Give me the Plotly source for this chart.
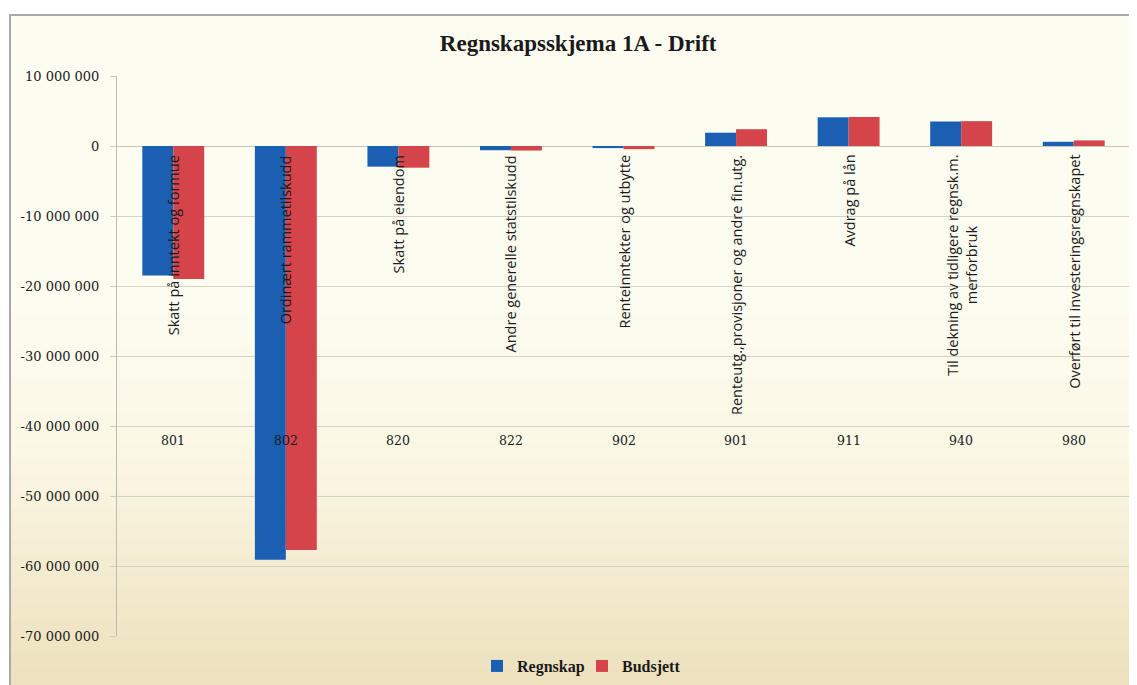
import plotly.graph_objects as go

codes = ["801", "802", "820", "822", "902", "901", "911", "940", "980"]
names = [
    "Skatt på inntekt og formue",
    "Ordinært rammetilskudd",
    "Skatt på eiendom",
    "Andre generelle statstilskudd",
    "Renteinntekter og utbytte",
    "Renteutg.,provisjoner og andre fin.utg.",
    "Avdrag på lån",
    "Til dekning av tidligere regnsk.m.<br>merforbruk",
    "Overført til investeringsregnskapet",
]
regnskap = [-18500000, -59100000, -2950000, -600000, -300000, 1900000, 4100000, 3500000, 600000]
budsjett = [-19000000, -57700000, -3100000, -650000, -450000, 2400000, 4150000, 3550000, 800000]

tick_vals = [10000000, 0, -10000000, -20000000, -30000000, -40000000, -50000000, -60000000, -70000000]
tick_text = ["10 000 000", "0", "-10 000 000", "-20 000 000", "-30 000 000", "-40 000 000",
             "-50 000 000", "-60 000 000", "-70 000 000"]

BLUE = "#1b5fb3"
RED = "#d5444b"

fig = go.Figure()
fig.add_trace(go.Bar(name="<b>Regnskap</b>", x=codes, y=regnskap, marker=dict(color=BLUE, line=dict(width=0))))
fig.add_trace(go.Bar(name="<b>Budsjett</b>", x=codes, y=budsjett, marker=dict(color=RED, line=dict(width=0))))

annotations = []
for i, (c, n) in enumerate(zip(codes, names)):
    annotations.append(dict(x=i, y=0, xref="x", yref="y", text=n, textangle=-90,
                            yanchor="top", xanchor="center", yshift=-7, showarrow=False,
                            align="center",
                            font=dict(family="Open Sans, Liberation Sans", size=14.5, color="#1a1a1a")))
    annotations.append(dict(x=i, y=-42000000, xref="x", yref="y", text=c, showarrow=False,
                            font=dict(family="DejaVu Serif", size=12.5, color="#1a1a1a")))

# background: white outside frame, cream frame with vertical gradient
shapes = []
x0p, x1p = -0.1056, 1.0069
ytop, ybot = 1.109, -0.0875
top_rgb = (253, 252, 241)
mid_rgb = (251, 247, 229)
bot_rgb = (236, 225, 188)
shapes.append(dict(type="rect", xref="paper", yref="paper", x0=x0p, x1=x1p, y0=ybot, y1=ytop,
                   fillcolor="rgb(%d,%d,%d)" % top_rgb, line=dict(width=0), layer="below"))
n_bands = 24
start = 0.6
for k in range(n_bands):
    y1 = start - (start - ybot) * k / n_bands
    y0 = start - (start - ybot) * (k + 1) / n_bands
    t = (k + 0.5) / n_bands
    if t < 0.4:
        u = t / 0.4
        rgb = [round(a + (b - a) * u) for a, b in zip(top_rgb, mid_rgb)]
    else:
        u = (t - 0.4) / 0.6
        rgb = [round(a + (b - a) * u) for a, b in zip(mid_rgb, bot_rgb)]
    shapes.append(dict(type="rect", xref="paper", yref="paper", x0=x0p, x1=x1p, y0=y0, y1=y1 + 0.002,
                       fillcolor="rgb(%d,%d,%d)" % tuple(rgb), line=dict(width=0), layer="below"))
shapes.append(dict(type="rect", xref="paper", yref="paper", x0=x0p, x1=x1p + 0.01, y0=ybot - 0.01, y1=ytop,
                   fillcolor="rgba(0,0,0,0)", line=dict(color="#a9a9a9", width=2), layer="below"))

fig.update_layout(
    width=1129, height=677,
    margin=dict(l=109, r=7, t=68, b=49, autoexpand=False),
    paper_bgcolor="white",
    plot_bgcolor="rgba(0,0,0,0)",
    barmode="group", bargap=0.45, bargroupgap=0,
    title=dict(text="<b>Regnskapsskjema 1A - Drift</b>", x=0.505, xanchor="center",
               y=0.948, yanchor="middle", yref="container",
               font=dict(family="Liberation Serif", size=23, color="#1a1a1a")),
    xaxis=dict(type="category", range=[-0.5, 8.5], showticklabels=False, showgrid=False,
               zeroline=False, showline=False, ticks=""),
    yaxis=dict(range=[-70000000, 10000000], tickvals=tick_vals, ticktext=tick_text,
               showgrid=True, gridcolor="#d6d3c6", gridwidth=1,
               zeroline=True, zerolinecolor="#c9c6ba", zerolinewidth=1,
               showline=True, linecolor="#bdbab0", linewidth=1,
               ticks="outside", ticklen=6, tickcolor="#cfccc0", ticklabelstandoff=8,
               tickfont=dict(family="DejaVu Serif", size=13, color="#1a1a1a")),
    legend=dict(orientation="h", x=0.5084, xanchor="center", xref="container",
                y=0.028, yanchor="middle", yref="container",
                bgcolor="rgba(0,0,0,0)", itemwidth=30,
                entrywidth=60, entrywidthmode="pixels",
                font=dict(family="Liberation Serif", size=16, color="#1a1a1a"),
                traceorder="normal"),
    annotations=annotations,
    shapes=shapes,
    showlegend=True,
)

fig.write_html("out.html")
